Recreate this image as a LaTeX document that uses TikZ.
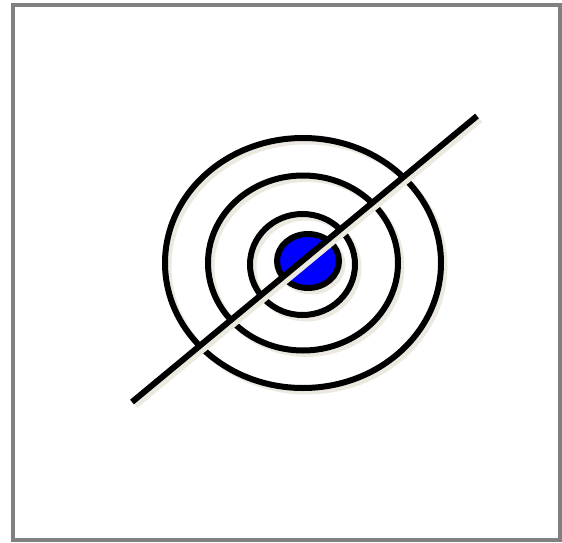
\documentclass[tikz,border=0pt]{standalone}
\usepackage{xcolor}
\usepackage{tikz}
\usetikzlibrary{calc}
\definecolor{framegray}{RGB}{128, 128, 128}
\definecolor{shadowbeige}{RGB}{236, 234, 224}
\definecolor{targetblue}{RGB}{0, 0, 255}

\tikzset{
    shadowed/.style={line width=6pt, draw=black,
        preaction={draw=shadowbeige, line width=6pt,
            transform canvas={shift={(3.5pt,-3.5pt)}}}}
}

\begin{document}
\begin{tikzpicture}[x=1pt, y=-1pt]
        \useasboundingbox (0,0) rectangle (562,543);
        % Frame
        \draw[framegray, line width=4pt] (12.5,5.5) rectangle (560,540);

        % Rings
        \coordinate (c) at (303,263);
        \draw[shadowed] (c) ellipse [x radius=138, y radius=125];
        \draw[shadowed] (c) ellipse [x radius=95, y radius=87.5];
        \draw[shadowed] (302.5,264.5) ellipse [x radius=52.5, y radius=50.5];

        % Bull's eye
        \draw[shadowed, fill=targetblue] (308,261) ellipse [x radius=31, y radius=27];

        % Line through it
        \coordinate (lo) at (132,402);
        \coordinate (hi) at (477,116);
        \draw[shadowed] (lo) -- (hi);
    \end{tikzpicture}
\end{document}
